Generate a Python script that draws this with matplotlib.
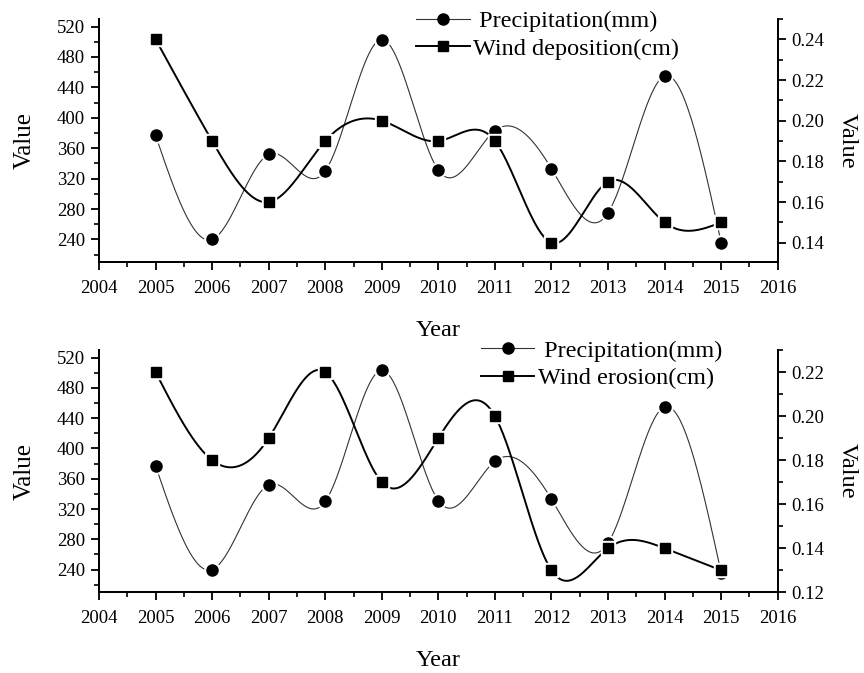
import numpy as np
import matplotlib
matplotlib.use('Agg')
from matplotlib import pyplot as plt
from matplotlib.ticker import MultipleLocator

plt.rcParams['font.family'] = ['Liberation Serif', 'DejaVu Serif']

years = [2005, 2006, 2007, 2008, 2009, 2010, 2011, 2012, 2013, 2014, 2015]
precipitation = [377, 240, 352, 330, 503, 331, 383, 333, 275, 455, 236]
wind_deposition = [0.24, 0.19, 0.16, 0.19, 0.20, 0.19, 0.19, 0.14, 0.17, 0.15, 0.15]
wind_erosion = [0.22, 0.18, 0.19, 0.22, 0.17, 0.19, 0.20, 0.13, 0.14, 0.14, 0.13]


def spline(x, y, n=400):
    # natural cubic spline through the points (only for drawing the smooth curve)
    x = np.asarray(x, float)
    y = np.asarray(y, float)
    k = len(x)
    h = np.diff(x)
    A = np.zeros((k, k))
    r = np.zeros(k)
    A[0, 0] = A[-1, -1] = 1
    for i in range(1, k - 1):
        A[i, i - 1] = h[i - 1]
        A[i, i] = 2 * (h[i - 1] + h[i])
        A[i, i + 1] = h[i]
        r[i] = 3 * ((y[i + 1] - y[i]) / h[i] - (y[i] - y[i - 1]) / h[i - 1])
    c = np.linalg.solve(A, r)
    xs = np.linspace(x[0], x[-1], n)
    idx = np.clip(np.searchsorted(x, xs) - 1, 0, k - 2)
    dx = xs - x[idx]
    b = (y[1:] - y[:-1]) / h - h * (2 * c[:-1] + c[1:]) / 3
    d = (c[1:] - c[:-1]) / (3 * h)
    ys = y[idx] + b[idx] * dx + c[idx] * dx ** 2 + d[idx] * dx ** 3
    return xs, ys


def style_axes(ax, ax2):
    for a in (ax, ax2):
        a.spines['top'].set_visible(False)
        for s in ('left', 'right', 'bottom'):
            a.spines[s].set_linewidth(1.3)
        a.tick_params(which='major', direction='out', length=6, width=1.3, labelsize=13.5, pad=4)
        a.tick_params(which='minor', direction='out', length=3.5, width=1.2)
    ax.tick_params(axis='x', pad=7)
    ax.set_xlim(2004, 2016)
    ax.xaxis.set_major_locator(MultipleLocator(1))
    ax.xaxis.set_minor_locator(MultipleLocator(0.5))
    ax.set_ylim(210, 530)
    ax.yaxis.set_minor_locator(MultipleLocator(20))
    ax.set_yticks(range(240, 521, 40))
    ax.set_xlabel('Year', fontsize=17.5, labelpad=16)
    ax.set_ylabel('Value', fontsize=18, labelpad=15)
    ax2.set_ylabel('Value', fontsize=17.5, rotation=270, labelpad=24)
    ax2.yaxis.set_minor_locator(MultipleLocator(0.01))


def draw(ax, ax2, wind):
    xs, ys = spline(years, precipitation)
    ax.plot(xs, ys, color='#333333', lw=0.8, zorder=2)
    ax.plot(years, precipitation, 'o', ms=11, color='white', zorder=2.1)
    ax.plot(years, precipitation, 'o', ms=8, color='black', zorder=2.2)
    xs, ys = spline(years, wind)
    ax2.plot(xs, ys, color='black', lw=1.4, zorder=2)
    ax2.plot(years, wind, 's', ms=10.5, color='white', zorder=2.1)
    ax2.plot(years, wind, 's', ms=7.3, color='black', zorder=2.2)
    hp = plt.Line2D([], [], color='#333333', lw=0.8, marker='o', ms=8, mfc='black', mec='black')
    hw = plt.Line2D([], [], color='black', lw=1.4, marker='s', ms=7, mfc='black', mec='black')
    return hp, hw


fig = plt.figure(figsize=(8.64, 6.73), dpi=100)

ax1 = fig.add_axes([0.1146, 0.6103, 0.7855, 0.3615])
ax1r = ax1.twinx()
style_axes(ax1, ax1r)
ax1r.set_ylim(0.1304, 0.25)
ax1r.set_yticks([0.14, 0.16, 0.18, 0.20, 0.22, 0.24])
ax1r.set_yticklabels(['0.14', '0.16', '0.18', '0.20', '0.22', '0.24'])
hp, hw = draw(ax1, ax1r, wind_deposition)
fig.legend([hp, hw], [' Precipitation(mm)', 'Wind deposition(cm)'], loc='upper left',
           bbox_to_anchor=(0.4676, 1.003), frameon=False, fontsize=17.5,
           handlelength=2.2, handletextpad=0.15, labelspacing=0.22, borderpad=0.0)

ax2 = fig.add_axes([0.1146, 0.1199, 0.7855, 0.360])
ax2r = ax2.twinx()
style_axes(ax2, ax2r)
ax2r.set_ylim(0.12, 0.23)
ax2r.set_yticks([0.12, 0.14, 0.16, 0.18, 0.20, 0.22])
ax2r.set_yticklabels(['0.12', '0.14', '0.16', '0.18', '0.20', '0.22'])
hp, hw = draw(ax2, ax2r, wind_erosion)
fig.legend([hp, hw], [' Precipitation(mm)', 'Wind erosion(cm)'], loc='upper left',
           bbox_to_anchor=(0.5426, 0.513), frameon=False, fontsize=17.5,
           handlelength=2.2, handletextpad=0.15, labelspacing=0.22, borderpad=0.0)

fig.savefig('out.png', dpi=100)
